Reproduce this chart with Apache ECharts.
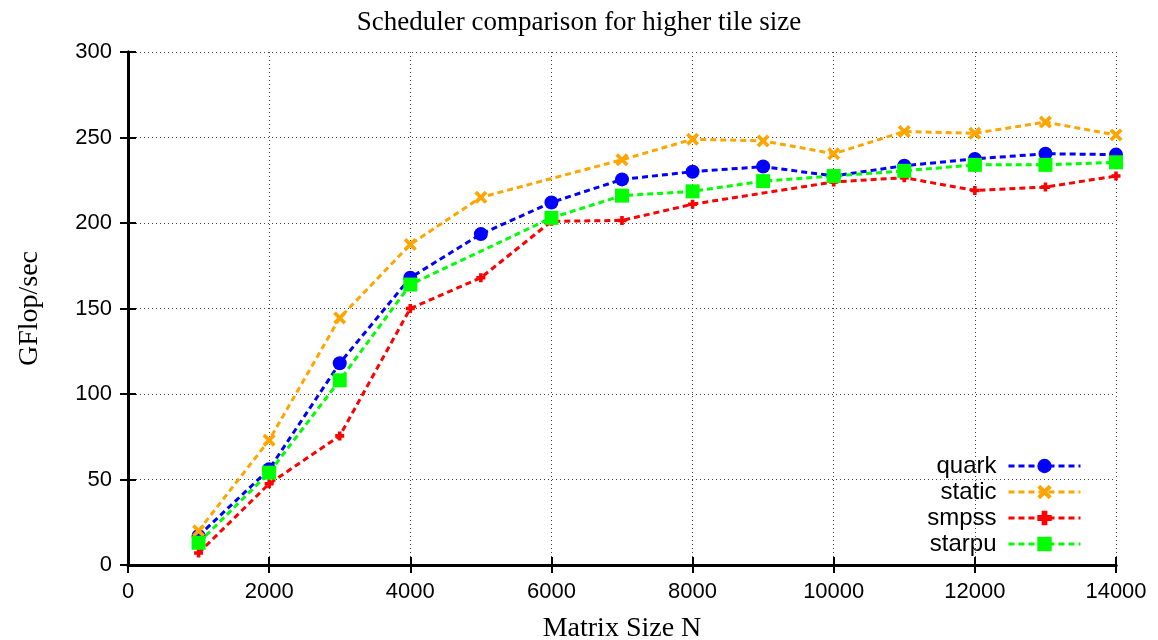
<!DOCTYPE html>
<html>
<head>
<meta charset="utf-8">
<script src="https://cdn.jsdelivr.net/npm/echarts@6/dist/echarts.min.js"></script>
<style>
  html, body { margin: 0; padding: 0; background: #fff; }
  #chart { width: 1158px; height: 640px; }
</style>
</head>
<body>
<div id="chart"></div>
<script>
// matrix sizes N (x axis)
const sizes = [1000, 2000, 3000, 4000, 5000, 6000, 7000, 8000, 9000, 10000, 11000, 12000, 13000, 14000];

// GFlop/sec per scheduler, null = no point plotted
const quark  = [17, 56, 118, 168, 193.5, 212, 225.5, 230, 233, 227.5, 233.5, 237.5, 240.5, 240];
const staticS = [20, 73, 144.5, 187.5, 215, null, 237, 249, 248, 240.5, 253.5, 252.5, 259, 251.5];
const smpss  = [7, 47.5, 75.5, 150, 168, 201, 201.5, 211, null, 224, 226.5, 219, 221, 227.5];
const starpu = [13, 54, 108, 164, null, 203, 216, 218.5, 224.5, 227.5, 230.5, 234, 234, 235.5];

const pairs = ys => sizes.map((x, i) => [x, ys[i]]);

const crossPath = 'path://M2,0L5,3L8,0L10,2L7,5L10,8L8,10L5,7L2,10L0,8L3,5L0,2Z';
const plusPath = 'path://M3,0H7V3H10V7H7V10H3V7H0V3H3Z';

const serif = '"Liberation Serif", "DejaVu Serif", serif';
const sans = '"Liberation Sans", Arial, sans-serif';

const mkSeries = (name, ys, color, symbol, size) => ({
  name: name,
  type: 'line',
  data: pairs(ys),
  connectNulls: true,
  symbol: symbol,
  symbolSize: size,
  showAllSymbol: true,
  itemStyle: { color: color },
  lineStyle: { color: color, width: 3, type: [6, 4] },
  emphasis: { disabled: true },
  z: 3
});

const tickStyle = { show: true, inside: true, length: 8, lineStyle: { color: '#000', width: 2 } };
const boxLine = { show: true, lineStyle: { color: '#000', width: 3 } };
const gridLine = { show: true, lineStyle: { color: '#444', width: 1, type: [1, 3] } };

const chart = echarts.init(document.getElementById('chart'));
chart.setOption({
  animation: false,
  backgroundColor: '#fff',
  title: {
    text: 'Scheduler comparison for higher tile size',
    left: 'center',
    top: 4,
    textStyle: { fontFamily: serif, fontSize: 27, fontWeight: 'normal', color: '#000' }
  },
  grid: { left: 128, right: 42, top: 52, bottom: 75, outerBoundsMode: 'none', containLabel: false },
  legend: {
    right: 71,
    bottom: 79,
    orient: 'vertical',
    align: 'right',
    itemWidth: 72,
    itemHeight: 18,
    itemGap: 2,
    lineStyle: { width: 3, type: [6, 4] },
    textStyle: { fontFamily: sans, fontSize: 24, color: '#000', padding: [0, 7, 0, 0] },
    data: ['quark', 'static', 'smpss', 'starpu']
  },
  xAxis: [{
    type: 'value',
    min: 0, max: 14000, interval: 2000,
    name: 'Matrix Size N',
    nameLocation: 'middle',
    nameGap: 50,
    nameTextStyle: { fontFamily: serif, fontSize: 28, color: '#000' },
    axisLine: boxLine,
    axisTick: tickStyle,
    axisLabel: { fontFamily: sans, fontSize: 22, color: '#000', margin: 16, formatter: v => String(v) },
    splitLine: gridLine
  }, {
    type: 'value',
    position: 'top',
    min: 0, max: 14000, interval: 2000,
    axisLine: boxLine,
    axisTick: tickStyle,
    axisLabel: { show: false },
    splitLine: { show: false }
  }],
  yAxis: [{
    type: 'value',
    min: 0, max: 300, interval: 50,
    name: 'GFlop/sec',
    nameLocation: 'middle',
    nameGap: 84,
    nameTextStyle: { fontFamily: serif, fontSize: 28, color: '#000' },
    axisLine: boxLine,
    axisTick: tickStyle,
    axisLabel: { fontFamily: sans, fontSize: 22, color: '#000', margin: 16 },
    splitLine: gridLine
  }, {
    type: 'value',
    position: 'right',
    min: 0, max: 300, interval: 50,
    axisLine: boxLine,
    axisTick: tickStyle,
    axisLabel: { show: false },
    splitLine: { show: false }
  }],
  series: [
    mkSeries('quark', quark, '#0000ff', 'circle', 14),
    mkSeries('static', staticS, '#ffa500', crossPath, 13),
    mkSeries('smpss', smpss, '#ff0000', plusPath, 9),
    mkSeries('starpu', starpu, '#00ff00', 'rect', 14)
  ]
});
</script>
</body>
</html>
